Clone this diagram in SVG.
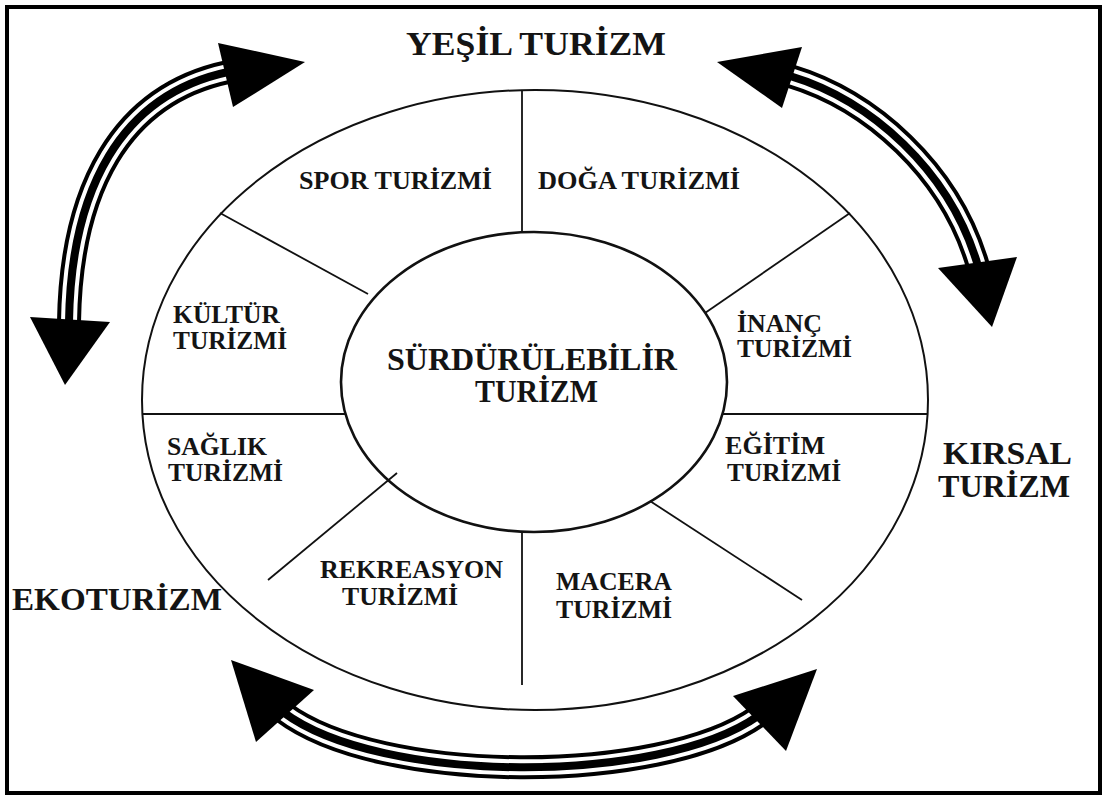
<svg xmlns="http://www.w3.org/2000/svg" width="1107" height="800" viewBox="0 0 1107 800">
<style>
.t{font-family:"Liberation Serif","Times New Roman",serif;font-weight:bold;fill:#141414}
.s{font-size:24.5px}
.c{font-size:31px}
.b{font-size:31px}
.ln{stroke:#111;fill:none}
.sh1{stroke:#000;stroke-width:24;fill:none}
.sh2{stroke:#fff;stroke-width:16;fill:none}
.sh3{stroke:#000;stroke-width:8;fill:none}
.head{fill:#000}
</style>
<rect x="0" y="0" width="1107" height="800" fill="#fff"/>
<rect x="7" y="7" width="1093" height="786" fill="none" stroke="#000" stroke-width="4"/>
<g id="wheel">
<ellipse class="ln" cx="535" cy="400" rx="393" ry="310" stroke-width="2"/>
<ellipse class="ln" cx="534" cy="382" rx="193" ry="150" stroke-width="2.6"/>
<line class="ln" x1="522" y1="90" x2="522" y2="232" stroke-width="1.8"/>
<line class="ln" x1="522" y1="533" x2="522" y2="685" stroke-width="1.8"/>
<line class="ln" x1="142" y1="414" x2="345" y2="414" stroke-width="1.8"/>
<line class="ln" x1="723" y1="414" x2="928" y2="414" stroke-width="1.8"/>
<line class="ln" x1="220" y1="213" x2="368" y2="294" stroke-width="1.8"/>
<line class="ln" x1="850" y1="213" x2="705" y2="313" stroke-width="1.8"/>
<line class="ln" x1="397" y1="473" x2="268" y2="580" stroke-width="1.8"/>
<line class="ln" x1="650" y1="501" x2="802" y2="600" stroke-width="1.8"/>
</g>
<g id="connectors">
<g id="arrow-left">
<path class="sh1" d="M69,322 C71,190 120,95 228,72"/>
<path class="sh2" d="M69,322 C71,190 120,95 228,72"/>
<path class="sh3" d="M69,322 C71,190 120,95 228,72"/>
<polygon class="head" points="218,43 305,62 233,107"/>
<polygon class="head" points="30,317 110,322 65,385"/>
</g>
<g id="arrow-right">
<path class="sh1" d="M790,76 C870,100 950,170 978,266"/>
<path class="sh2" d="M790,76 C870,100 950,170 978,266"/>
<path class="sh3" d="M790,76 C870,100 950,170 978,266"/>
<polygon class="head" points="717,62 802,47 782,108"/>
<polygon class="head" points="938,268 1017,257 992,327"/>
</g>
<g id="arrow-bottom">
<path class="sh1" d="M283,712 C380,785 660,785 758,716"/>
<path class="sh2" d="M283,712 C380,785 660,785 758,716"/>
<path class="sh3" d="M283,712 C380,785 660,785 758,716"/>
<polygon class="head" points="231,660 314,690 256,742"/>
<polygon class="head" points="733,696 817,669 786,751"/>
</g>
</g>
<g id="yesil"><text class="t b" x="406" y="55" textLength="260" lengthAdjust="spacingAndGlyphs" style="font-size:34px">YEŞİL TURİZM</text></g>
<g id="spor"><text class="t s" x="299" y="189" textLength="193" lengthAdjust="spacingAndGlyphs">SPOR TURİZMİ</text></g>
<g id="doga"><text class="t s" x="538" y="189" textLength="202" lengthAdjust="spacingAndGlyphs">DOĞA TURİZMİ</text></g>
<g id="kultur">
<text class="t s" x="173" y="323" textLength="107" lengthAdjust="spacingAndGlyphs">KÜLTÜR</text>
<text class="t s" x="173" y="349" textLength="114" lengthAdjust="spacingAndGlyphs">TURİZMİ</text>
</g>
<g id="inanc">
<text class="t s" x="737" y="332" textLength="85" lengthAdjust="spacingAndGlyphs">İNANÇ</text>
<text class="t s" x="737" y="357" textLength="115" lengthAdjust="spacingAndGlyphs">TURİZMİ</text>
</g>
<g id="surdurulebilir">
<text class="t c" x="387" y="370" textLength="290" lengthAdjust="spacingAndGlyphs">SÜRDÜRÜLEBİLİR</text>
<text class="t c" x="475" y="402" textLength="123" lengthAdjust="spacingAndGlyphs">TURİZM</text>
</g>
<g id="saglik">
<text class="t s" x="167" y="455" textLength="100" lengthAdjust="spacingAndGlyphs">SAĞLIK</text>
<text class="t s" x="168" y="481" textLength="115" lengthAdjust="spacingAndGlyphs">TURİZMİ</text>
</g>
<g id="egitim">
<text class="t s" x="725" y="454" textLength="100" lengthAdjust="spacingAndGlyphs">EĞİTİM</text>
<text class="t s" x="727" y="481" textLength="114" lengthAdjust="spacingAndGlyphs">TURİZMİ</text>
</g>
<g id="kirsal">
<text class="t b" x="943" y="464" textLength="129" lengthAdjust="spacingAndGlyphs">KIRSAL</text>
<text class="t b" x="938" y="497" textLength="132" lengthAdjust="spacingAndGlyphs">TURİZM</text>
</g>
<g id="rekreasyon">
<text class="t s" x="320" y="578" textLength="183" lengthAdjust="spacingAndGlyphs">REKREASYON</text>
<text class="t s" x="342" y="605" textLength="116" lengthAdjust="spacingAndGlyphs">TURİZMİ</text>
</g>
<g id="macera">
<text class="t s" x="556" y="590" textLength="116" lengthAdjust="spacingAndGlyphs">MACERA</text>
<text class="t s" x="556" y="618" textLength="116" lengthAdjust="spacingAndGlyphs">TURİZMİ</text>
</g>
<g id="ekoturizm"><text class="t b" x="12" y="610" textLength="210" lengthAdjust="spacingAndGlyphs">EKOTURİZM</text></g>
</svg>
